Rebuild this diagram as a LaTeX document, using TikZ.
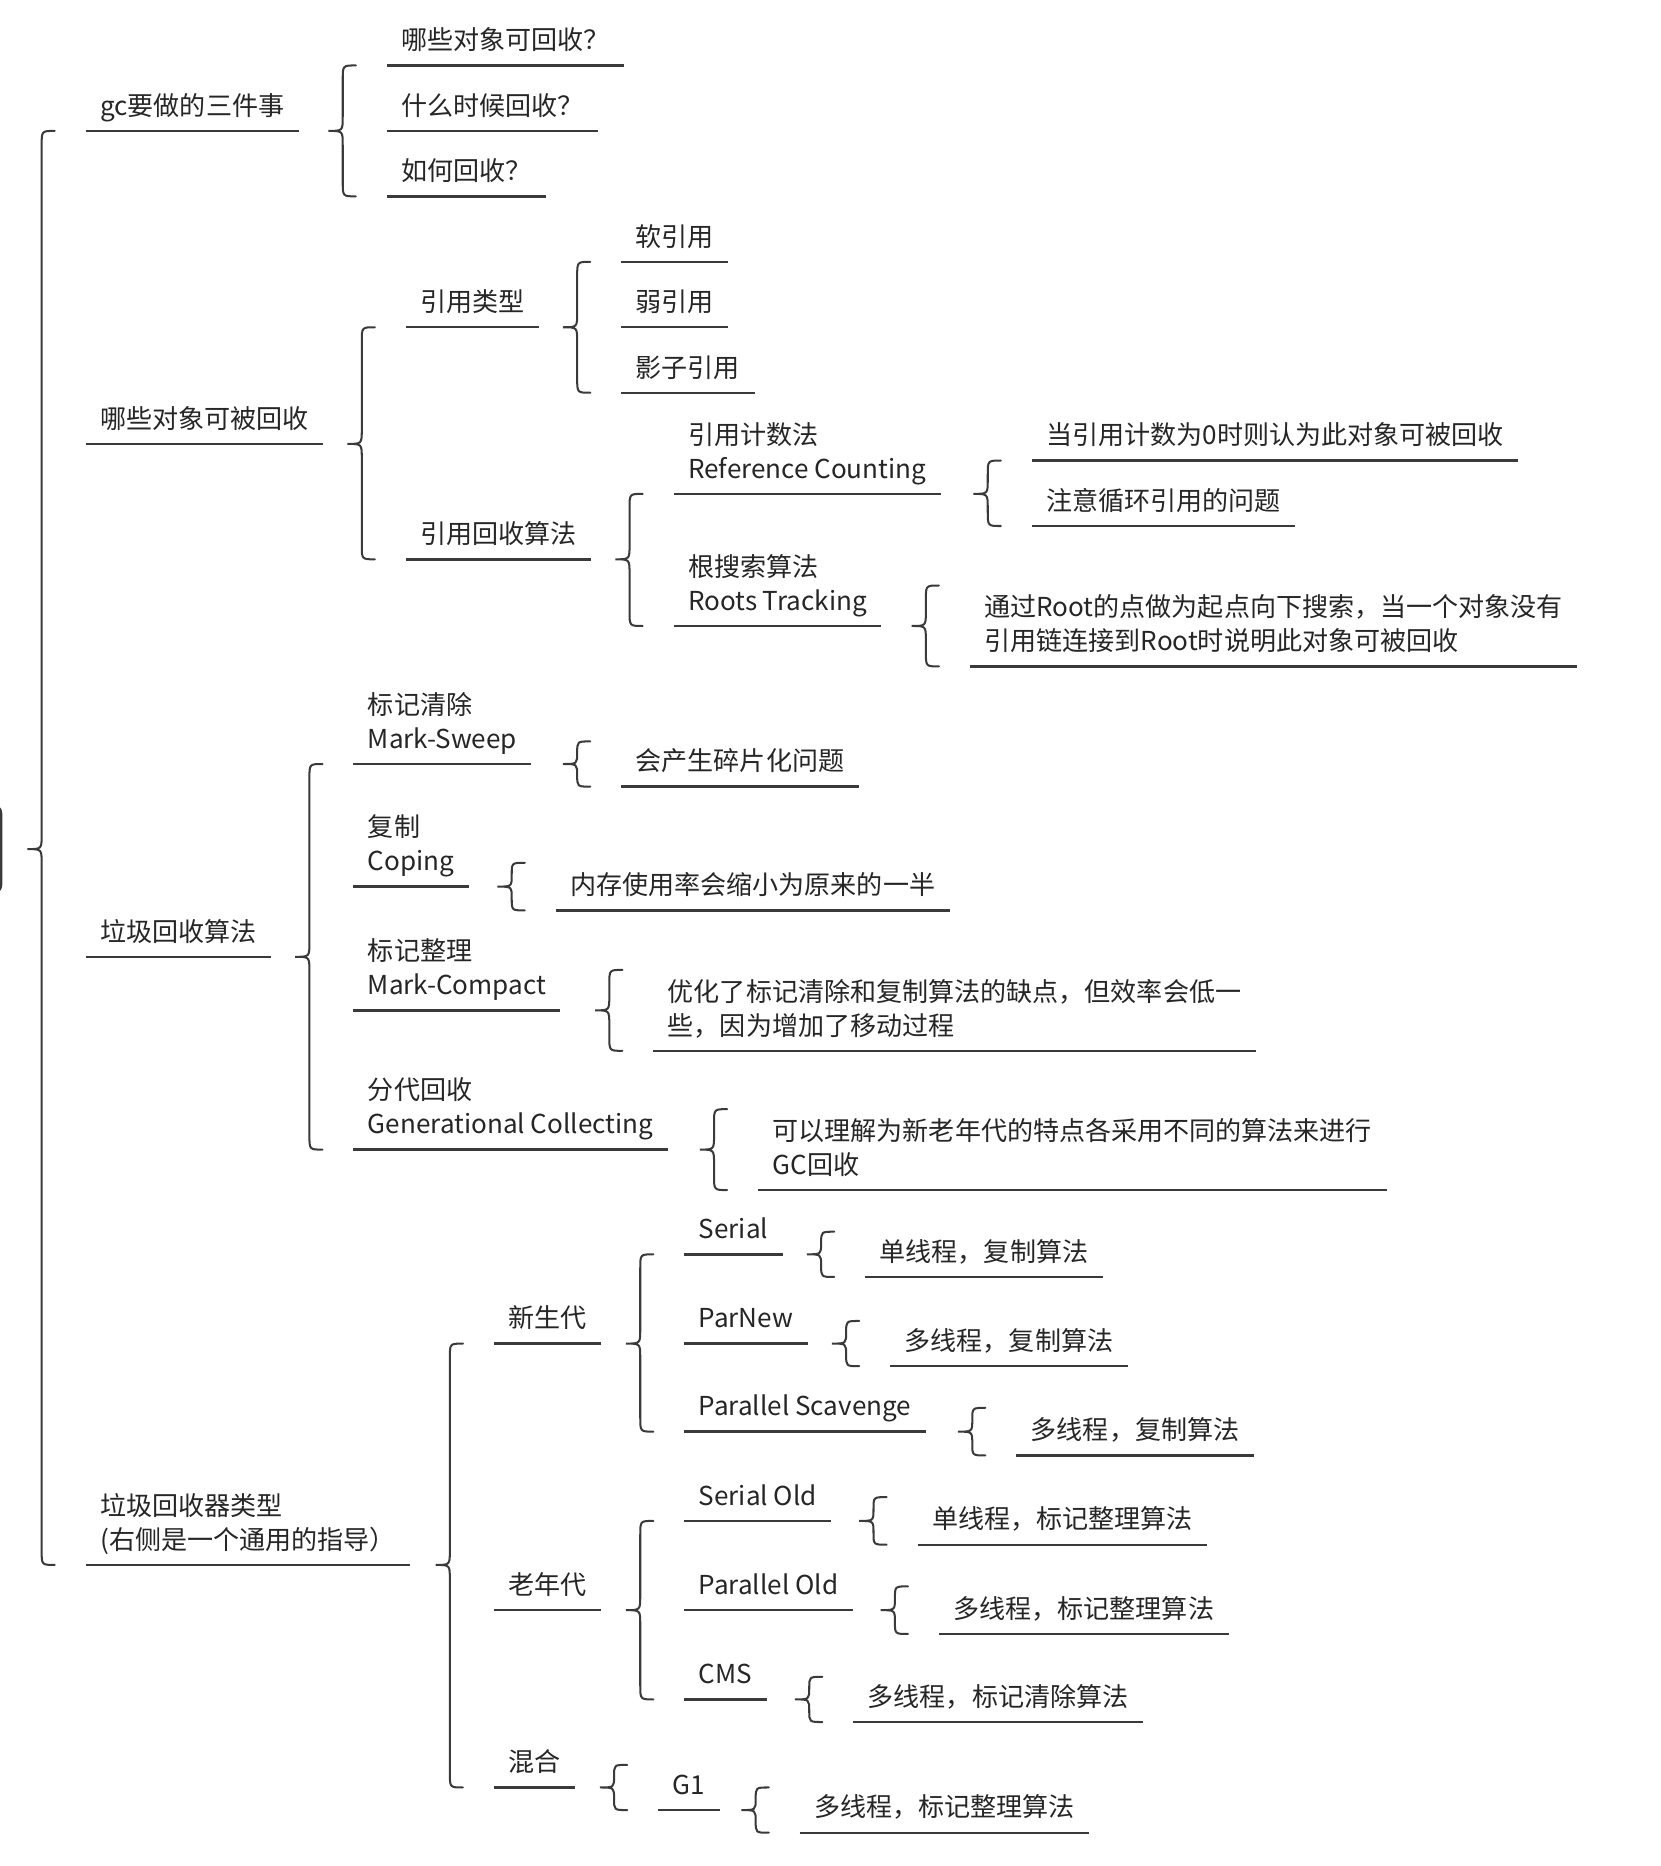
\documentclass[tikz,border=0pt]{standalone}
\usepackage{fontspec}
\setmainfont{Noto Sans CJK SC}
\usetikzlibrary{calc}

\definecolor{mmline}{HTML}{3A3A3A}
\definecolor{mmtext}{HTML}{262626}

% depth kept equal on every last line, so text sits the same height over its line
\newcommand{\mmstrut}{\rule[-6pt]{0pt}{6pt}}
% brace: 1 = point of the parent, 2 = first child, 3 = last child
\newcommand{\mmbracepath}{(\x4+11pt,\y2) .. controls (\x4,\y2) .. (\x4,\y2-\n1*1pt)
    -- (\x4,\y1+\n1*1pt) .. controls (\x4,\y1) .. (\x4-12pt,\y1)
    .. controls (\x4,\y1) .. (\x4,\y1-\n1*1pt)
    -- (\x4,\y3+\n1*1pt) .. controls (\x4,\y3) .. (\x4+11pt,\y3)}
\newcommand{\mmbrace}[3]{%
  \draw[mmbrace] let \p1=(#1), \p2=(#2.south west), \p3=(#3.south west),
    \p4=($(#2.south west)-(37,0)$), \n1={min(12,abs((\y2)-(\y3))/4)} in \mmbracepath;}
\newcommand{\mmbraceone}[2]{%
  \draw[mmbrace] let \p1=(#1), \p3=(#2.south west), \p2=(\x3,{2*(\y1)-(\y3)}),
    \p4=($(#2.south west)-(37,0)$), \n1={min(12,abs((\y2)-(\y3))/4)} in \mmbracepath;}

\begin{document}
\begin{tikzpicture}[x=1pt, y=-1pt,
    font=\fontsize{21.9}{28.5}\selectfont,
    topic/.style={anchor=south west, inner xsep=12pt, inner ysep=7pt, align=left, text=mmtext,
        execute at end node=\mmstrut,
        append after command={(\tikzlastnode.south west) edge[mmunder] (\tikzlastnode.south east)}},
    mmunder/.style={draw=mmline, line width=2pt},
    mmbrace/.style={draw=mmline, line width=1.7pt, line cap=round},
    rootbox/.style={fill=mmline, rounded corners=8pt, minimum width=40pt, minimum height=76pt, inner sep=0pt}
]
    \fill[white] (0,0) rectangle (1395,1568);
    \useasboundingbox (0,0) rectangle (1395,1568);

    \node [rootbox] (root) at (-18,713.5) {};

    % first level
    \node [topic] (gc) at (72,110) {gc要做的三件事};
    \node [topic] (which) at (72,373) {哪些对象可被回收};
    \node [topic] (algo) at (72,804) {垃圾回收算法};
    \node [topic] (coll) at (72,1315) {垃圾回收器类型\\(右侧是一个通用的指导）};
    \mmbrace{root.east}{gc}{coll}

    % gc要做的三件事
    \node [topic] (q1) at (325,55) {哪些对象可回收？};
    \node [topic] (q2) at (325,110) {什么时候回收？};
    \node [topic] (q3) at (325,165) {如何回收？};
    \mmbrace{gc.south east}{q1}{q3}

    % 哪些对象可被回收
    \node [topic] (reftype) at (341,275) {引用类型};
    \node [topic] (refalgo) at (341,470) {引用回收算法};
    \mmbrace{which.south east}{reftype}{refalgo}
    \node [topic] (soft) at (522,220) {软引用};
    \node [topic] (weak) at (522,275) {弱引用};
    \node [topic] (phantom) at (522,330) {影子引用};
    \mmbrace{reftype.south east}{soft}{phantom}
    \node [topic] (rc) at (566,415) {引用计数法\\Reference Counting};
    \node [topic] (roots) at (566,526) {根搜索算法\\Roots Tracking};
    \mmbrace{refalgo.south east}{rc}{roots}
    \node [topic] (rcA) at (867,387) {当引用计数为0时则认为此对象可被回收};
    \node [topic] (rcB) at (867,442) {注意循环引用的问题};
    \mmbrace{rc.south east}{rcA}{rcB}
    \node [topic] (rootsA) at (815,560) {通过Root的点做为起点向下搜索，当一个对象没有\\引用链连接到Root时说明此对象可被回收};
    \mmbraceone{roots.south east}{rootsA}

    % 垃圾回收算法
    \node [topic] (ms) at (297,642) {标记清除\\Mark-Sweep};
    \node [topic] (cp) at (297,745) {复制\\Coping};
    \node [topic] (mc) at (297,849) {标记整理\\Mark-Compact};
    \node [topic] (gen) at (297,966) {分代回收\\Generational Collecting};
    \mmbrace{algo.south east}{ms}{gen}
    \node [topic] (msA) at (522,661) {会产生碎片化问题};
    \mmbraceone{ms.south east}{msA}
    \node [topic] (cpA) at (467,765) {内存使用率会缩小为原来的一半};
    \mmbraceone{cp.south east}{cpA}
    \node [topic] (mcA) at (549,883) {优化了标记清除和复制算法的缺点，但效率会低一\\些，因为增加了移动过程};
    \mmbraceone{mc.south east}{mcA}
    \node [topic] (genA) at (637,1000) {可以理解为新老年代的特点各采用不同的算法来进行\\GC回收};
    \mmbraceone{gen.south east}{genA}

    % 垃圾回收器类型
    \node [topic] (young) at (415,1129) {新生代};
    \node [topic] (old) at (415,1353) {老年代};
    \node [topic] (mixed) at (415,1502) {混合};
    \mmbrace{coll.south east}{young}{mixed}

    \node [topic] (serial) at (575,1054) {Serial};
    \node [topic] (parnew) at (575,1129) {ParNew};
    \node [topic] (pscav) at (575,1203) {Parallel Scavenge};
    \mmbrace{young.south east}{serial}{pscav}
    \node [topic] (serialA) at (727,1073) {单线程，复制算法};
    \mmbraceone{serial.south east}{serialA}
    \node [topic] (parnewA) at (748,1148) {多线程，复制算法};
    \mmbraceone{parnew.south east}{parnewA}
    \node [topic] (pscavA) at (854,1223) {多线程，复制算法};
    \mmbraceone{pscav.south east}{pscavA}

    \node [topic] (sold) at (575,1278) {Serial Old};
    \node [topic] (pold) at (575,1353) {Parallel Old};
    \node [topic] (cms) at (575,1428) {CMS};
    \mmbrace{old.south east}{sold}{cms}
    \node [topic] (soldA) at (771,1298) {单线程，标记整理算法};
    \mmbraceone{sold.south east}{soldA}
    \node [topic] (poldA) at (789,1373) {多线程，标记整理算法};
    \mmbraceone{pold.south east}{poldA}
    \node [topic] (cmsA) at (717,1447) {多线程，标记清除算法};
    \mmbraceone{cms.south east}{cmsA}

    \node [topic] (g1) at (553,1521) {G1};
    \mmbraceone{mixed.south east}{g1}
    \node [topic] (g1A) at (672,1540) {多线程，标记整理算法};
    \mmbraceone{g1.south east}{g1A}
\end{tikzpicture}
\end{document}
